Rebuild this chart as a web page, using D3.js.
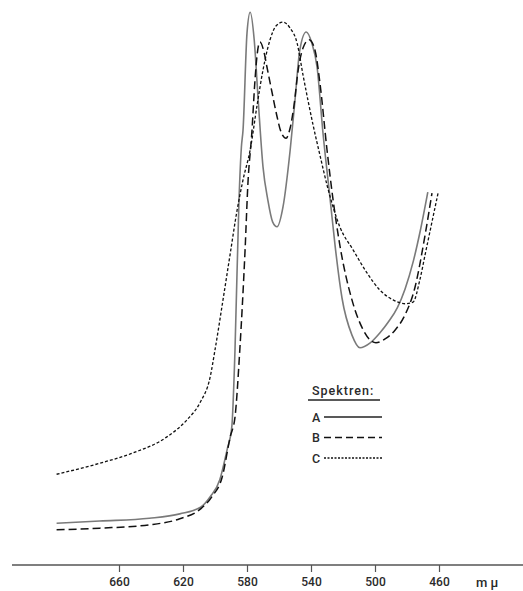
<!DOCTYPE html>
<html>
<head>
<meta charset="utf-8">
<script src="https://cdn.jsdelivr.net/npm/d3@7"></script>
<style>
  html, body { margin: 0; padding: 0; background: #fff; }
  svg { display: block; }
  text { font-family: Roboto, "DejaVu Sans", sans-serif; font-weight: 500; fill: #2a2a2a; }
</style>
</head>
<body>
<svg id="chart" width="523" height="591"></svg>
<script>
// Absorption spectra A, B, C (relative extinction vs wavelength in mμ)
const wavelengthsA = [699, 672, 641, 622, 609, 603, 597, 592.5, 589.5, 587.5, 585, 583.5, 582.5, 580, 578, 575.5, 573, 570, 567, 564, 561.2, 557.5, 553, 550, 547, 543, 539.5, 536.2, 532.5, 528, 525, 520.6, 514.4, 509.4, 503, 497, 491.9, 486, 481.2, 476, 471.9, 467];
const valuesA      = [0.076, 0.080, 0.085, 0.093, 0.105, 0.124, 0.155, 0.209, 0.251, 0.391, 0.664, 0.760, 0.790, 0.967, 1.005, 0.955, 0.845, 0.724, 0.664, 0.624, 0.615, 0.651, 0.755, 0.845, 0.936, 0.969, 0.949, 0.905, 0.785, 0.664, 0.582, 0.485, 0.418, 0.395, 0.404, 0.422, 0.441, 0.468, 0.502, 0.553, 0.605, 0.678];

const wavelengthsB = [699, 672, 641, 622, 609, 602, 595.5, 590.5, 587.5, 584.5, 581.2, 579.4, 577, 575, 573.7, 571.9, 569.4, 567.5, 564.4, 561.2, 558.7, 555.6, 553, 550.6, 548, 545, 541.2, 537.5, 534.4, 530, 526.2, 522, 514.4, 508, 503, 499.4, 493.7, 487.5, 481.2, 475, 468.7, 464.4];
const valuesB      = [0.064, 0.067, 0.073, 0.084, 0.102, 0.124, 0.160, 0.233, 0.269, 0.391, 0.573, 0.695, 0.785, 0.882, 0.927, 0.951, 0.933, 0.905, 0.860, 0.815, 0.787, 0.776, 0.795, 0.836, 0.900, 0.940, 0.955, 0.936, 0.876, 0.755, 0.664, 0.582, 0.482, 0.431, 0.409, 0.404, 0.411, 0.427, 0.455, 0.505, 0.600, 0.676];

const wavelengthsC = [699, 672, 651, 630, 617.5, 609.4, 603, 600, 595, 590.6, 586.2, 582.5, 578, 573.7, 570, 565.6, 561.9, 557.5, 553, 548.7, 545, 541.9, 538.7, 534.4, 530, 522, 513.7, 505, 497, 488.7, 481.2, 476.2, 472, 468.7, 460.6];
const valuesC      = [0.165, 0.185, 0.204, 0.233, 0.264, 0.295, 0.342, 0.391, 0.482, 0.564, 0.645, 0.700, 0.755, 0.836, 0.900, 0.955, 0.980, 0.987, 0.976, 0.949, 0.891, 0.845, 0.800, 0.745, 0.691, 0.615, 0.573, 0.531, 0.500, 0.482, 0.475, 0.478, 0.518, 0.564, 0.676];

const tickValues = [660, 620, 580, 540, 500, 460];
const axisUnit = "m \u03bc";
const legendTitle = "Spektren:";
const seriesNames = ["A", "B", "C"];

const svg = d3.select("#chart");
const W = 523;
const axisY = 565;

const x = d3.scaleLinear().domain([660, 460]).range([119, 439]);
const y = d3.scaleLinear().domain([0, 1]).range([axisY, 15]);

const styles = {
  A: { stroke: "#7a7a7a", width: 1.6, dash: null },
  B: { stroke: "#111", width: 1.5, dash: "8,4" },
  C: { stroke: "#111", width: 1.3, dash: "3,2" }
};

const series = [
  { name: "A", w: wavelengthsA, v: valuesA },
  { name: "B", w: wavelengthsB, v: valuesB },
  { name: "C", w: wavelengthsC, v: valuesC }
];

const line = d3.line()
  .x(d => x(d[0]))
  .y(d => y(d[1]))
  .curve(d3.curveMonotoneX);

svg.append("g").selectAll("path")
  .data(series)
  .join("path")
  .attr("d", s => line(s.w.map((w, i) => [w, s.v[i]])))
  .attr("fill", "none")
  .attr("stroke", s => styles[s.name].stroke)
  .attr("stroke-width", s => styles[s.name].width)
  .attr("stroke-dasharray", s => styles[s.name].dash)
  .attr("stroke-linejoin", "round");

// Wavelength axis
const axis = d3.axisBottom(x)
  .tickValues(tickValues)
  .tickSize(7)
  .tickPadding(5)
  .tickFormat(d3.format("d"));

const gAxis = svg.append("g")
  .attr("transform", `translate(0,${axisY})`)
  .call(axis);
gAxis.select(".domain").remove();
gAxis.selectAll(".tick line").attr("stroke", "#555").attr("stroke-width", 1.2);
gAxis.selectAll(".tick text")
  .attr("font-size", 12)
  .attr("fill", "#2a2a2a")
  .style("font-family", "Roboto, 'DejaVu Sans', sans-serif")
  .style("font-weight", 500);

svg.append("line")
  .attr("x1", 12).attr("x2", W)
  .attr("y1", axisY).attr("y2", axisY)
  .attr("stroke", "#555").attr("stroke-width", 1.4);

svg.append("text")
  .attr("x", 476).attr("y", axisY + 22)
  .attr("font-size", 13)
  .text(axisUnit);

// Legend
const lg = svg.append("g").attr("transform", "translate(311,0)");
lg.append("text").attr("x", 1).attr("y", 395)
  .attr("font-size", 12.5).attr("letter-spacing", 1)
  .text(legendTitle);
lg.append("line").attr("x1", -3).attr("x2", 69).attr("y1", 400).attr("y2", 400)
  .attr("stroke", "#222").attr("stroke-width", 1.3);

const rows = lg.selectAll("g.row")
  .data(seriesNames)
  .join("g")
  .attr("class", "row")
  .attr("transform", (d, i) => `translate(0,${417 + i * 20.5})`);
rows.append("text").attr("x", 1).attr("y", 4.5)
  .attr("font-size", 12.5)
  .text(d => d);
rows.append("line")
  .attr("x1", 13).attr("x2", 71).attr("y1", 0).attr("y2", 0)
  .attr("stroke", d => d === "A" ? "#222" : "#111")
  .attr("stroke-width", 1.3)
  .attr("stroke-dasharray", d => d === "A" ? null : (d === "B" ? "7,4" : "2,1.5"));
</script>
</body>
</html>
